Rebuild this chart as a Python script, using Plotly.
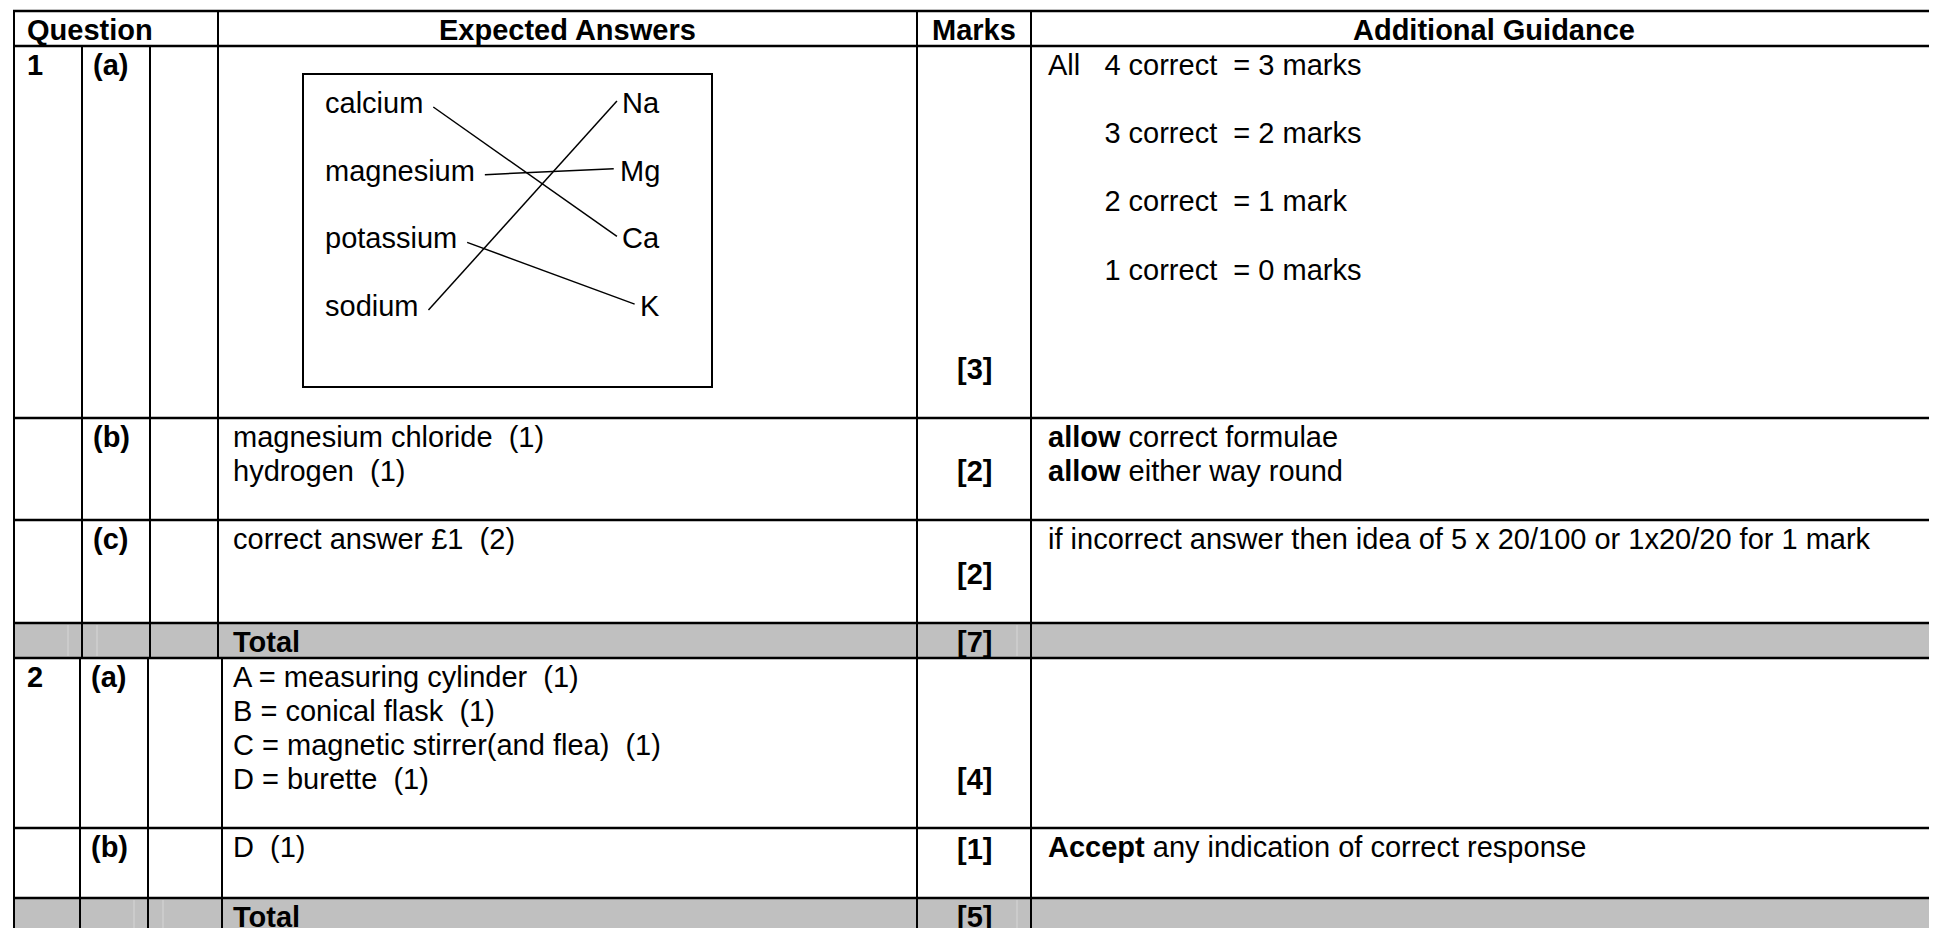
import plotly.graph_objects as go

# column headings
headers = ["Question", "Expected Answers", "Marks", "Additional Guidance"]

# one entry per table row
q_number = ["1", "", "", "", "2", "", ""]
q_part = ["(a)", "(b)", "(c)", "", "(a)", "(b)", ""]
answers = [
    [],
    ["magnesium chloride  (1)", "hydrogen  (1)"],
    ["correct answer £1  (2)"],
    ["<b>Total</b>"],
    ["A = measuring cylinder  (1)", "B = conical flask  (1)",
     "C = magnetic stirrer(and flea)  (1)", "D = burette  (1)"],
    ["D  (1)"],
    ["<b>Total</b>"],
]
marks = ["[3]", "[2]", "[2]", "[7]", "[4]", "[1]", "[5]"]
guidance = [
    ["All   4 correct  = 3 marks", "", "       3 correct  = 2 marks", "",
     "       2 correct  = 1 mark", "", "       1 correct  = 0 marks"],
    ["<b>allow</b> correct formulae", "<b>allow</b> either way round"],
    ["if incorrect answer then idea of 5 x 20/100 or 1x20/20 for 1 mark"],
    [],
    [],
    ["<b>Accept</b> any indication of correct response"],
    [],
]
is_total = [False, False, False, True, False, False, True]

# matching diagram for 1(a)
elements = ["calcium", "magnesium", "potassium", "sodium"]
symbols = ["Na", "Mg", "Ca", "K"]
matches = {"calcium": "Ca", "magnesium": "Mg", "potassium": "K", "sodium": "Na"}

# ---- geometry (pixels) ----
W, H = 1937, 928
OFF = 8  # page body margin, so axis units match window pixels
FS = 29
FONT = "Liberation Sans, Arial, sans-serif"
row_edges = [11, 46, 418, 520, 623, 658, 828, 898, 950]
cols_sec1 = [14, 82, 150, 218, 917, 1031, 1960]
cols_sec2 = [14, 80, 148, 222, 917, 1031, 1960]
section = [0, 0, 0, 0, 1, 1, 1]
LINE_STEP = 34.2
GREY = "#C0C0C0"

# Arial advance widths (per 1000 em) for the letters used in the diagram
adv = {"a": 556, "c": 500, "d": 556, "e": 556, "g": 556, "i": 222, "l": 222,
       "m": 833, "n": 556, "o": 556, "p": 556, "s": 500, "t": 278, "u": 556,
       "N": 722, "M": 833, "C": 722, "K": 667}


def text_w(s):
    return sum(adv.get(ch, 556) for ch in s) * FS / 1000


def fix_spaces(s):
    return s.replace("  ", " \u00a0").replace("\u00a0 ", "\u00a0\u00a0")


fig = go.Figure()
shapes = []
annotations = []


def add_text(x, y, txt, anchor="left", bold=False):
    t = fix_spaces(txt)
    if bold:
        t = "<b>" + t + "</b>"
    annotations.append(dict(x=x, y=y, xref="x", yref="y", text=t, showarrow=False,
                            xanchor=anchor, yanchor="middle",
                            font=dict(family=FONT, size=FS, color="black")))


def hline(y, x0, x1, w=2.5, color="black"):
    shapes.append(dict(type="line", xref="x", yref="y", x0=x0, x1=x1, y0=y, y1=y,
                       line=dict(color=color, width=w)))


def vline(x, y0, y1, w=2, color="black"):
    shapes.append(dict(type="line", xref="x", yref="y", x0=x, x1=x, y0=y0, y1=y1,
                       line=dict(color=color, width=w)))


# grey total rows
for i, tot in enumerate(is_total):
    if tot:
        top, bot = row_edges[i + 1], row_edges[i + 2]
        shapes.append(dict(type="rect", xref="x", yref="y", x0=14, x1=1960, y0=top, y1=bot,
                           fillcolor=GREY, line=dict(width=0), layer="below"))
        c = cols_sec1 if section[i] == 0 else cols_sec2
        for fx in (c[section[i] + 1] - 14, c[section[i] + 1] + 15, 1017):
            vline(fx, top + 2, bot - 2, w=1, color="#d6d6d6")

# header
top, bot = row_edges[0], row_edges[1]
for x in (cols_sec1[0], cols_sec1[3], cols_sec1[4], cols_sec1[5]):
    vline(x, top, bot)
hy = (top + bot) / 2 + 1
add_text(25, hy, headers[0], bold=True)
add_text((cols_sec1[3] + cols_sec1[4]) / 2, hy, headers[1], anchor="center", bold=True)
add_text((cols_sec1[4] + cols_sec1[5]) / 2, hy, headers[2], anchor="center", bold=True)
add_text((cols_sec1[5] + 1957) / 2, hy, headers[3], anchor="center", bold=True)

# body rows
for i in range(len(marks)):
    top, bot = row_edges[i + 1], row_edges[i + 2]
    c = cols_sec1 if section[i] == 0 else cols_sec2
    for x in c[:-1]:
        vline(x, top, bot)
    y0 = top + 18.5
    if q_number[i]:
        add_text(c[0] + 11, y0, q_number[i], bold=True)
    if q_part[i]:
        add_text(c[1] + 9, y0, q_part[i], bold=True)
    for k, line in enumerate(answers[i]):
        add_text(231, y0 + k * LINE_STEP, line)
    for k, line in enumerate(guidance[i]):
        if line:
            add_text(c[5] + 15, y0 + k * LINE_STEP, line)
    my = y0 if is_total[i] else max(y0, bot - 49)
    add_text((c[4] + c[5]) / 2, my, marks[i], anchor="center", bold=True)

for y in row_edges[:-1]:
    hline(y, 13, 1960)

# matching diagram
bx0, bx1, by0, by1 = 303, 712, 74, 387
shapes.append(dict(type="rect", xref="x", yref="y", x0=bx0, x1=bx1, y0=by0, y1=by1,
                   line=dict(color="black", width=2)))
word_x, sym_x = 323, 662
row_y = [103 + 67.7 * k for k in range(len(elements))]
for k, el in enumerate(elements):
    add_text(word_x, row_y[k], el)
for k, sy in enumerate(symbols):
    add_text(sym_x, row_y[k], sy, anchor="right")
for k, el in enumerate(elements):
    j = symbols.index(matches[el])
    xs = [word_x + text_w(el) + 12, sym_x - text_w(matches[el]) - 8]
    ys = [row_y[k] + 4, row_y[j] - 2]
    fig.add_trace(go.Scatter(x=xs, y=ys, mode="lines", line=dict(color="black", width=1.5),
                             hoverinfo="skip", showlegend=False))

fig.update_layout(
    width=W, height=H, margin=dict(l=0, r=0, t=0, b=0),
    paper_bgcolor="white", plot_bgcolor="white",
    xaxis=dict(range=[OFF, W + OFF], visible=False, fixedrange=True),
    yaxis=dict(range=[H + OFF, OFF], visible=False, fixedrange=True),
    shapes=shapes, annotations=annotations,
)

fig.write_html("out.html")
